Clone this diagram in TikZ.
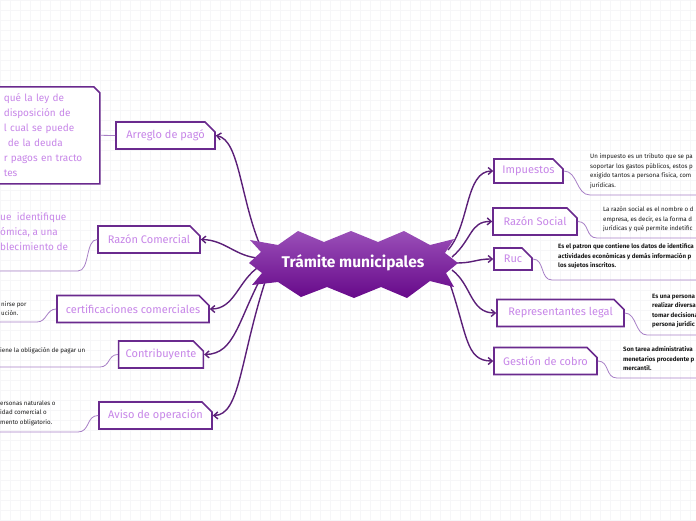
\documentclass[tikz,border=0pt]{standalone}
\usepackage{fontspec}
\setmainfont{Fira Sans}
\usetikzlibrary{arrows.meta,shapes.misc}
\definecolor{plum}{HTML}{6A2A8E}
\definecolor{lilac}{HTML}{C786E8}
\definecolor{branch}{HTML}{5B1F78}
\definecolor{twig}{HTML}{A77FC6}
\definecolor{hubtop}{HTML}{9A4FB8}
\definecolor{hubbot}{HTML}{67098A}
\definecolor{gridgray}{HTML}{F6F6F8}
\definecolor{ink}{HTML}{1A1A1A}
\tikzset{
  topic/.style={chamfered rectangle, chamfered rectangle corners=north east, chamfered rectangle xsep=5pt, chamfered rectangle ysep=5pt, draw=plum, line width=1.6pt, fill=white, text=lilac, font=\fontsize{11}{13}\selectfont, inner sep=2pt, minimum height=27pt},
  lilacbox/.style={topic, chamfered rectangle xsep=3pt, chamfered rectangle ysep=3pt, font=\fontsize{10}{15}\selectfont, align=left, anchor=north west},
  note/.style={font=\fontsize{6.2}{9.6}\selectfont, text=ink, align=left, inner sep=0pt, anchor=north west},
  boldnote/.style={note, font=\bfseries\fontsize{6.2}{9.6}\selectfont},
  bignote/.style={font=\fontsize{10}{15}\selectfont, text=lilac, align=left, inner sep=0pt, anchor=north west},
  branchline/.style={-{Straight Barb[length=4pt,width=7pt]}, line width=1.4pt, draw=branch},
  twigline/.style={line width=0.8pt, draw=twig},
  hub/.style={font=\bfseries\fontsize{15.5}{18}\selectfont, text=white}
}
\begin{document}
\begin{tikzpicture}[x=1pt,y=-1pt]
\useasboundingbox (0,0) rectangle (696,520);
\clip (0,0) rectangle (696,520);
\foreach \gx in {0,10,...,690} \draw[gridgray, line width=0.5pt] (\gx,0) -- (\gx,520);
\foreach \gy in {0,10,...,520} \draw[gridgray, line width=0.5pt] (0,\gy) -- (696,\gy);
% branch starts under the hub
\coordinate (l1) at (262,250);
\coordinate (l2) at (258,258);
\coordinate (l3) at (260,266);
\coordinate (l4) at (263,274);
\coordinate (l5) at (265,282);
\coordinate (r1) at (448,250);
\coordinate (r2) at (452,257);
\coordinate (r3) at (455,263);
\coordinate (r4) at (452,270);
\coordinate (r5) at (448,278);
% topics
\node[topic, minimum width=99pt] (arreglo) at (165.5,135.5) {Arreglo de pagó};
\node[topic, minimum width=102pt] (razcom) at (149,239.5) {Razón Comercial};
\node[topic, minimum width=152pt] (certif) at (133,309) {certificaciones comerciales};
\node[topic, minimum width=84pt] (contrib) at (161,354.5) {Contribuyente};
\node[topic, minimum width=113pt] (aviso) at (155.5,415.5) {Aviso de operación};
\node[topic, minimum width=69pt, minimum height=24pt] (impuestos) at (528.5,171) {Impuestos};
\node[topic, minimum width=84pt] (razsoc) at (535,221.5) {Razón Social};
\node[topic, minimum width=38pt, minimum height=22pt] (ruc) at (513,259) {Ruc};
\node[topic, minimum width=127pt] (repres) at (560.5,313) {Representantes legal};
\node[topic, minimum width=103pt] (gestion) at (545.5,361) {Gestión de cobro};
% notes
\node[lilacbox, text width=86pt, inner xsep=7pt, minimum height=97pt] (arreglonote) at (-7,86) {qué la ley de\\disposición de\\l cual se puede\\\hspace*{4pt}de la deuda\\r pagos en tracto\\tes};
\node[bignote] (razcomnote) at (0,212) {ue\ \ identifique\\ómica, a una\\blecimiento de};
\node[note] (certifnote) at (1,301) {nirse por\\ución.};
\node[note] (contribnote) at (0,347) {iene la obligación de pagar un};
\node[note] (avisonote) at (0,400.5) {ersonas naturales o\\idad comercial o\\mento obligatorio.};
\node[note] (impuestosnote) at (590,153.5) {Un impuesto es un tributo que se pa\\soportar los gastos públicos, estos p\\exigido tantos a persona física, com\\jurídicas.};
\node[note] (razsocnote) at (603,206.5) {La razón social es el nombre o d\\empresa, es decir, es la forma d\\jurídicas y qué permite indetific};
\node[boldnote] (rucnote) at (558,243.5) {Es el patron que contiene los datos de identifica\\actividades económicas y demás información p\\los sujetos inscritos.};
\node[boldnote] (represnote) at (652,293.5) {Es una persona\\realizar diversa\\tomar decisiona\\persona jurídic};
\node[boldnote] (gestionnote) at (623,346.5) {Son tarea administrativa\\menetarios procedente p\\mercantil.};
% underline ends
\coordinate (razcomu) at (78,271);
\coordinate (certifu) at (37,322);
\coordinate (contribu) at (100,367);
\coordinate (avisou) at (78,432);
\coordinate (impuestosu) at (590,195);
\coordinate (razsocu) at (597,238);
\coordinate (rucu) at (552,280);
\coordinate (represu) at (647,335);
\coordinate (gestionu) at (617,378);
\draw[twigline] (arreglonote.east) -- (arreglo.west);
\draw[twigline] (razcom.west) .. controls +(-12,0) and +(12,0) .. (razcomu) -- (-2,271);
\draw[twigline] (certif.west) .. controls +(-10,0) and +(10,0) .. (certifu) -- (-2,322);
\draw[twigline] (contrib.west) .. controls +(-10,0) and +(10,0) .. (contribu) -- (-2,367);
\draw[twigline] (aviso.west) .. controls +(-12,0) and +(12,0) .. (avisou) -- (-2,432);
\draw[twigline] (impuestos.east) .. controls +(14,0) and +(-14,0) .. (impuestosu) -- (700,195);
\draw[twigline] (razsoc.east) .. controls +(12,0) and +(-12,0) .. (razsocu) -- (700,238);
\draw[twigline] (ruc.east) .. controls +(12,0) and +(-12,0) .. (rucu) -- (700,280);
\draw[twigline] (repres.east) .. controls +(12,0) and +(-12,0) .. (represu) -- (700,335);
\draw[twigline] (gestion.east) .. controls +(12,0) and +(-12,0) .. (gestionu) -- (700,378);
% branches
\draw[branchline] (l1) .. controls (240,200) and (240,140) .. (arreglo.east);
\draw[branchline] (l2) .. controls (235,256) and (225,240) .. (razcom.east);
\draw[branchline] (l3) .. controls (238,280) and (235,309) .. (certif.east);
\draw[branchline] (l4) .. controls (238,320) and (235,354) .. (contrib.east);
\draw[branchline] (l5) .. controls (240,360) and (240,415) .. (aviso.east);
\draw[branchline] (r1) .. controls (470,225) and (465,171) .. (impuestos.west);
\draw[branchline] (r2) .. controls (472,240) and (470,221) .. (razsoc.west);
\draw[branchline] (r3) .. controls (475,263) and (475,259) .. (ruc.west);
\draw[branchline] (r4) .. controls (472,285) and (470,313) .. (repres.west);
\draw[branchline] (r5) .. controls (468,335) and (465,361) .. (gestion.west);
% hub
\shade[top color=hubtop, bottom color=hubbot] (250,240) -- (278,245) -- (298,231) -- (324,242) -- (351,231) -- (378,242) -- (404,231) -- (430,245) -- (454,239) -- (445,253) -- (458,263) -- (446,273) -- (454,287) -- (430,281) -- (407,298) -- (381,287) -- (354,298) -- (327,287) -- (301,297) -- (278,282) -- (252,285) -- (262,273) -- (249,263) -- (261,252) -- cycle;
\node[hub] (hub) at (353,263) {Trámite municipales};
\end{tikzpicture}
\end{document}
